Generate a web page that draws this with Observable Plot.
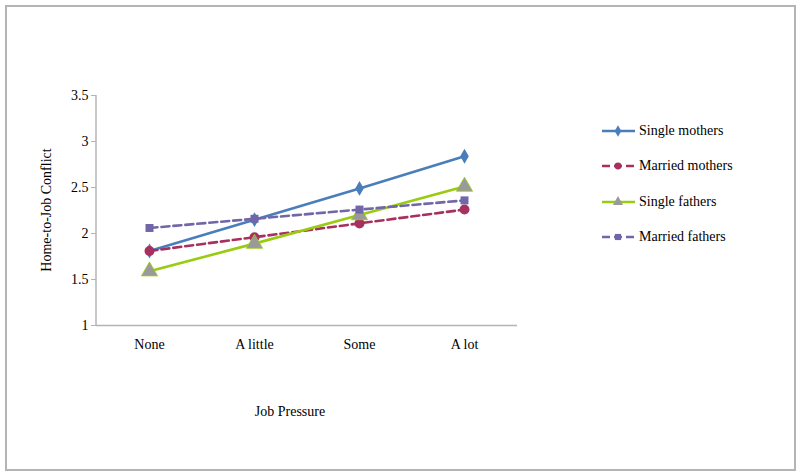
<!DOCTYPE html>
<html>
<head>
<meta charset="utf-8">
<script src="https://cdn.jsdelivr.net/npm/d3@7"></script>
<script src="https://cdn.jsdelivr.net/npm/@observablehq/plot@0.6"></script>
<style>
  body { margin: 0; background: #fff; }
  #wrap { position: relative; width: 800px; height: 475px; font-family: "Liberation Serif", "Times New Roman", serif; }
  #border { position: absolute; left: 5px; top: 5px; width: 787px; height: 462px; border: 2px solid #b4b4b4; }
  #chart { position: absolute; left: 0; top: 0; }
  #legend { position: absolute; left: 600px; top: 113px; font-size: 14px; color: #000; }
  .row { display: flex; align-items: center; height: 35.5px; }
  .row svg { margin-right: 2px; }
</style>
</head>
<body>
<div id="wrap">
  <div id="border"></div>
  <div id="chart"></div>
  <div id="legend"></div>
</div>
<script>
const categories = ["None", "A little", "Some", "A lot"];
const seriesNames = ["Single mothers", "Married mothers", "Single fathers", "Married fathers"];
const singleMothers = [1.81, 2.15, 2.49, 2.84];
const marriedMothers = [1.81, 1.96, 2.11, 2.26];
const singleFathers = [1.59, 1.89, 2.20, 2.51];
const marriedFathers = [2.06, 2.16, 2.26, 2.36];
const yTicks = [1, 1.5, 2, 2.5, 3, 3.5];

const styles = {
  "Single mothers": {stroke: "#4a7ebb", dash: null, symbol: "diamond", fill: "#4a7ebb", r: 4.5},
  "Married mothers": {stroke: "#a8305f", dash: "8,4", symbol: "circle", fill: "#a8305f", r: 5},
  "Single fathers": {stroke: "#99cc11", dash: null, symbol: "triangle", fill: "#9a9a9a", r: 6},
  "Married fathers": {stroke: "#7066a8", dash: "8,4", symbol: "square", fill: "#7066a8", r: 4.5}
};

const valuesBySeries = [singleMothers, marriedMothers, singleFathers, marriedFathers];
const data = [];
seriesNames.forEach((s, i) => categories.forEach((c, j) => data.push({series: s, cat: c, value: valuesBySeries[i][j]})));

const marks = [
  Plot.ruleY([1], {stroke: "#b4b4b4", strokeWidth: 1.5}),
  Plot.axisY({ticks: yTicks, tickFormat: d => String(d), tickSize: 5, tickPadding: 3, stroke: "#b4b4b4", fontSize: 14, label: null, fill: "#000"}),
  Plot.axisX({tickSize: 0, tickPadding: 14, fontSize: 14, label: null, fill: "#000"})
];
seriesNames.forEach(s => {
  const st = styles[s];
  const d = data.filter(x => x.series === s);
  marks.push(Plot.line(d, {x: "cat", y: "value", stroke: st.stroke, strokeWidth: 2.6, strokeDasharray: st.dash}));
});
seriesNames.forEach(s => {
  const st = styles[s];
  const d = data.filter(x => x.series === s);
  marks.push(Plot.dot(d, {x: "cat", y: "value", symbol: st.symbol, fill: st.fill, stroke: s === "Single fathers" ? "#99cc11" : null, strokeWidth: 0.8, r: st.r}));
});

const chart = Plot.plot({
  width: 800,
  height: 475,
  marginLeft: 96,
  marginRight: 283,
  marginTop: 95,
  marginBottom: 150,
  style: {fontFamily: "'Liberation Serif', 'Times New Roman', serif", fontSize: "14px", background: "transparent", color: "#000"},
  x: {type: "point", domain: categories, padding: 0.5, axis: null},
  y: {domain: [1, 3.5], axis: null},
  marks
});
document.getElementById("chart").appendChild(chart);

const svg = d3.select(chart);
const ys = chart.scale("y");
const left = 96;
svg.append("line").attr("x1", left).attr("x2", left)
  .attr("y1", ys.apply(3.5)).attr("y2", ys.apply(1))
  .attr("stroke", "#b4b4b4").attr("stroke-width", 1.5);
svg.append("text").text("Home-to-Job Conflict")
  .attr("transform", `translate(51,${(ys.apply(1) + ys.apply(3.5)) / 2}) rotate(-90)`)
  .attr("text-anchor", "middle").attr("font-size", 14).attr("fill", "#000");
svg.append("text").text("Job Pressure")
  .attr("x", 290).attr("y", 416)
  .attr("text-anchor", "middle").attr("font-size", 14).attr("fill", "#000");

// legend
const legend = d3.select("#legend");
const symTypes = {diamond: d3.symbolDiamond, circle: d3.symbolCircle, triangle: d3.symbolTriangle, square: d3.symbolSquare};
seriesNames.forEach(s => {
  const st = styles[s];
  const row = legend.append("div").attr("class", "row");
  const sw = row.append("svg").attr("width", 37).attr("height", 16);
  sw.append("line").attr("x1", 2).attr("x2", 35).attr("y1", 8).attr("y2", 8)
    .attr("stroke", st.stroke).attr("stroke-width", 2.6).attr("stroke-dasharray", st.dash);
  const sym = d3.symbol().type(symTypes[st.symbol]).size(st.symbol === "triangle" ? 45 : 38);
  sw.append("path").attr("d", sym()).attr("transform", "translate(18,8)").attr("fill", st.fill);
  row.append("span").text(s);
});
</script>
</body>
</html>
